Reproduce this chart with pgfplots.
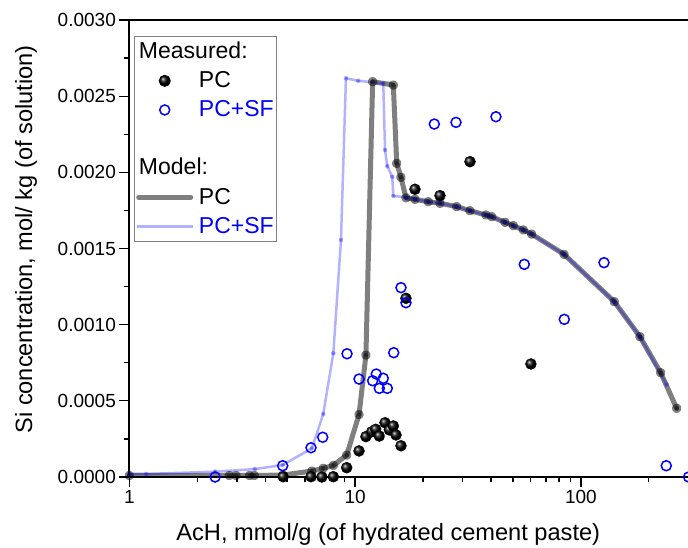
\documentclass[border=0pt]{standalone}
\usepackage{fontspec}
\setmainfont{Liberation Sans}
\usepackage{pgfplots}
\pgfplotsset{compat=1.18}
\usepackage{pgfplotstable}

\pgfplotsset{
  legmark/.style={legend image code/.code={\draw[##1] plot coordinates {(0pt,0pt)};}},
  legline/.style={legend image code/.code={\draw[##1] (-#1,0pt) -- (#1,0pt);}},
}

\pgfplotstableread{
x y
1 0.00001
2.77 0.00001
2.97 0.00001
3.41 0.00001
3.58 0.00001
4.79 0.000013
6.43 0.000039
7.23 0.000057
8.01 0.000076
9.18 0.000144
10.41 0.00041
11.17 0.0008
11.96 0.002595
14.77 0.002573
15.29 0.002059
15.97 0.001967
16.80 0.001833
18.42 0.001823
21.10 0.001807
23.77 0.001797
28.18 0.001775
32.28 0.001748
38.00 0.00172
40.30 0.001709
46.10 0.001672
50.20 0.00165
55.60 0.001622
60.50 0.001595
84.20 0.001462
140.6 0.001151
182.7 0.000921
225.6 0.000685
265.7 0.000451
}\modelPC

\pgfplotstableread{
x y
1 0.00002
1.19 0.00002
2.40 0.000035
3.60 0.000052
4.78 0.000079
6.43 0.000188
7.23 0.000414
8.01 0.000812
8.66 0.001556
9.11 0.002617
10.33 0.002601
13.33 0.002584
13.57 0.002147
13.89 0.002041
14.61 0.001971
14.77 0.001845
16.90 0.001836
18.42 0.001823
21.10 0.001807
23.77 0.001797
28.18 0.001775
32.28 0.001748
38.00 0.00172
40.30 0.001709
46.10 0.001672
50.20 0.00165
55.60 0.001622
60.50 0.001595
84.20 0.001462
140.6 0.001151
182.7 0.000921
239.8 0.000606
}\modelSF

\pgfplotstableread{
x y
4.80 0.000002
6.38 0.000002
7.13 0.0
8.01 0.000002
9.18 0.000061
10.41 0.000171
11.17 0.000265
11.85 0.000297
12.34 0.000313
12.80 0.000269
13.57 0.000356
14.18 0.000309
14.77 0.000335
15.18 0.000276
15.97 0.000205
16.80 0.001173
18.42 0.001889
23.77 0.001847
32.28 0.00207
60.10 0.000742
}\measPC

\pgfplotstableread{
x y
2.40 0.0
4.78 0.000074
6.38 0.000192
7.19 0.000261
9.21 0.000809
10.41 0.000643
11.96 0.000632
12.41 0.000676
12.80 0.000582
13.33 0.000648
13.89 0.000582
14.83 0.000816
15.97 0.001243
16.80 0.001144
22.43 0.002317
27.99 0.002328
42.07 0.002365
56.16 0.001396
84.43 0.001035
126.6 0.001407
238.9 0.000074
300 0.0
}\measSF

\begin{document}
\begin{tikzpicture}
\begin{axis}[
  scale only axis, width=559.3pt, height=457pt,
  xmode=log, xmin=1, xmax=300, ymin=0, ymax=0.003,
  xtick={1,10,100}, xticklabels={1,10,100},
  minor xtick={2,3,4,5,6,7,8,9,20,30,40,50,60,70,80,90,200,300},
  ytick={0,0.0005,0.001,0.0015,0.002,0.0025,0.003},
  minor y tick num=1,
  scaled y ticks=false,
  yticklabel style={/pgf/number format/.cd, fixed, fixed zerofill, precision=4, assume math mode=true},
  tick pos=left, tick align=outside,
  major tick length=10pt, minor tick length=5pt,
  tick style={black, line width=1.3pt},
  axis line style={line width=1.6pt},
  tick label style={font=\fontsize{19}{23}\selectfont},
  label style={font=\fontsize{23.6}{28}\selectfont},
  xlabel={AcH, mmol/g (of hydrated cement paste)},
  ylabel={Si concentration, mol/ kg (of solution)},
  xlabel style={at={(axis description cs:0.463,-0.1400)}, anchor=base},
  ylabel style={at={(axis description cs:-0.1847,0.52)}, anchor=center},
  clip=false,
  legend cell align=left,
  legend style={at={(axis description cs:0,1)}, anchor=north west, xshift=4.7pt, yshift=-15.7pt,
    draw=black!50, line width=1pt, fill=white, inner sep=1pt, row sep=0pt, column sep=3pt,
    font=\fontsize{23}{27}\selectfont,
    nodes={inner xsep=2pt, inner ysep=2.8pt, text height=18.5pt, text depth=5pt}},
]
\addlegendimage{empty legend}\addlegendentry{\hspace*{-60pt}Measured:}
\addlegendimage{only marks, mark=ball, mark size=5.5pt, mark options={ball color=black}, legmark}
\addlegendentry{PC}
\addlegendimage{only marks, mark=o, blue, mark size=5pt, line width=1.5pt, legmark}
\addlegendentry{\textcolor{blue}{PC+SF}}
\addlegendimage{empty legend}\addlegendentry{}
\addlegendimage{empty legend}\addlegendentry{\hspace*{-60pt}Model:}
\addlegendimage{black, draw opacity=0.5, line width=5pt, line cap=round, legline=26pt}
\addlegendentry{PC}
\addlegendimage{blue, draw opacity=0.3, line width=2.5pt, legline=28pt}
\addlegendentry{\textcolor{blue}{PC+SF}}

\addplot[forget plot, black, draw opacity=0.5, line width=5pt, line cap=round, line join=round,
  mark=*, mark size=2.2pt, mark options={draw=none, fill=black, fill opacity=0.4}]
  table[x=x,y=y]{\modelPC};
\addplot[forget plot, blue, draw opacity=0.3, line width=2.5pt, line join=round,
  mark=*, mark size=1.3pt, mark options={draw=none, fill=blue, fill opacity=0.2}]
  table[x=x,y=y]{\modelSF};
\addplot[forget plot, only marks, mark=ball, mark size=5.5pt, mark options={ball color=black}]
  table[x=x,y=y]{\measPC};
\addplot[forget plot, only marks, mark=o, blue, mark size=5pt, line width=1.5pt]
  table[x=x,y=y]{\measSF};
\end{axis}
\pgfresetboundingbox
\path[use as bounding box] ([shift={(-129.3pt,-70pt)}]current axis.south west) rectangle ([shift={(-0.6pt,20pt)}]current axis.north east);
\end{tikzpicture}
\end{document}
